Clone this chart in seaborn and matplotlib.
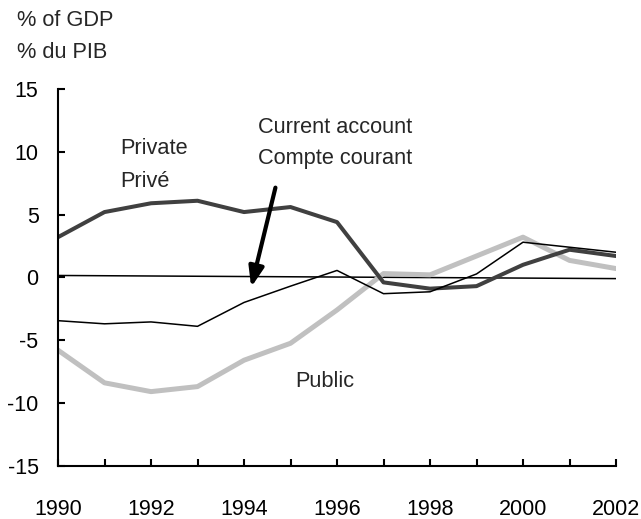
import pandas as pd
import numpy as np
import seaborn as sns
import matplotlib.pyplot as plt

years = list(range(1990, 2003))
private = [3.2, 5.2, 5.9, 6.1, 5.2, 5.6, 4.4, -0.4, -0.9, -0.7, 1.0, 2.2, 1.7]
public = [-5.8, -8.4, -9.1, -8.7, -6.6, -5.25, -2.6, 0.3, 0.2, 1.7, 3.2, 1.35, 0.7]
current = [-3.45, -3.7, -3.55, -3.9, -2.0, -0.7, 0.55, -1.3, -1.15, 0.27, 2.8, 2.4, 2.0]
zero_years = [1990, 2002]
zero_line = [0.15, -0.1]

sns.set_style("ticks")
plt.rcParams['font.family'] = ['Liberation Sans', 'DejaVu Sans']
plt.rcParams['axes.unicode_minus'] = False

fig = plt.figure(figsize=(6.41, 5.19), dpi=100)
ax = fig.add_axes([0.0905, 0.1027, 0.8705, 0.7258])

sns.lineplot(x=zero_years, y=zero_line, ax=ax, color='black', linewidth=1.1)
sns.lineplot(x=years, y=public, ax=ax, color='#c0c0c0', linewidth=3.6)
sns.lineplot(x=years, y=private, ax=ax, color='#404040', linewidth=2.9)
sns.lineplot(x=years, y=current, ax=ax, color='black', linewidth=1.1)

ax.set_xlim(1990, 2002)
ax.set_ylim(-15, 15)
ax.set_yticks(range(-15, 16, 5))
ax.set_xticks(years)
ax.set_xticklabels([str(y) if y % 2 == 0 else '' for y in years])
for s in ['top', 'right']:
    ax.spines[s].set_visible(False)
for s in ['left', 'bottom']:
    ax.spines[s].set_linewidth(1.5)
    ax.spines[s].set_color('black')
ax.tick_params(axis='both', direction='in', length=5, width=1.5, colors='black', labelsize=15.5)
ax.tick_params(axis='x', pad=24)
ax.tick_params(axis='y', pad=14)
ax.set_xlabel('')
ax.set_ylabel('')

fs = 15.7
ax.text(1991.33, 10.3, 'Private', fontsize=fs, va='center')
ax.text(1991.33, 7.67, 'Privé', fontsize=fs, va='center')
ax.text(1994.3, 11.95, 'Current account', fontsize=fs, va='center')
ax.text(1994.3, 9.48, 'Compte courant', fontsize=fs, va='center')
ax.text(1995.11, -8.3, 'Public', fontsize=fs, va='center')

ax.annotate('', xy=(1994.14, -1.0), xytext=(1994.69, 7.36),
            arrowprops=dict(arrowstyle='-|>,head_length=1.2,head_width=0.45', color='black', lw=3))

fig.text(17 / 641, 1 - 20 / 519, '% of GDP', fontsize=fs, va='center')
fig.text(17 / 641, 1 - 52 / 519, '% du PIB', fontsize=fs, va='center')

fig.savefig('out.png', dpi=100)
